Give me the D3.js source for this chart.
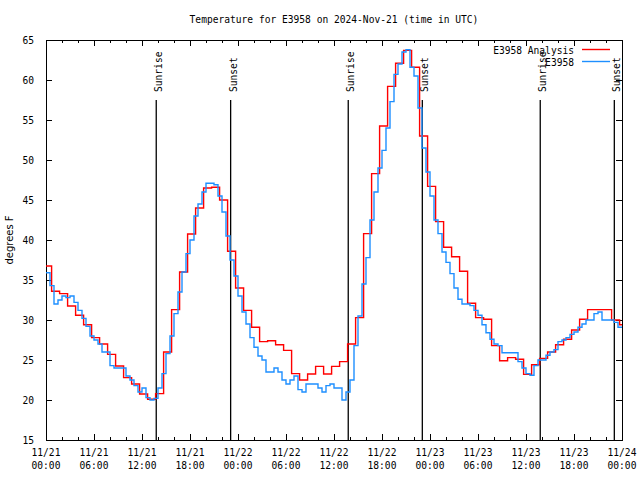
<!DOCTYPE html>
<html>
<head>
<meta charset="utf-8">
<script src="https://cdn.jsdelivr.net/npm/d3@7"></script>
<style>
  html, body { margin: 0; padding: 0; background: #fff; }
  svg { display: block; }
  text { font-family: "DejaVu Sans Mono", "Liberation Mono", monospace; font-size: 9.6px; fill: #000; }
</style>
</head>
<body>
<svg id="chart" width="640" height="480"></svg>
<script>
// ---- data ----
const titleText = "Temperature for E3958 on 2024-Nov-21 (time in UTC)";
const yLabel = "degrees F";
const xTickDates = ["11/21","11/21","11/21","11/21","11/22","11/22","11/22","11/22","11/23","11/23","11/23","11/23","11/24"];
const xTickTimes = ["00:00","06:00","12:00","18:00","00:00","06:00","12:00","18:00","00:00","06:00","12:00","18:00","00:00"];
const yTicks = [15, 20, 25, 30, 35, 40, 45, 50, 55, 60, 65];
const seriesNames = ["E3958 Analysis", "E3958"];

// hours since 11/21 00:00 UTC
const sunEvents = ["Sunrise", "Sunset", "Sunrise", "Sunset", "Sunrise", "Sunset"];
const sunHours = [13.78, 23.08, 37.78, 47.04, 61.78, 71.04];

// Analysis: hourly values, each one starting 0.3 h before the hour
const analysisStep = 1, analysisOffset = -0.3;
const analysisTemps = [
  36.75, 33.6, 33.3, 31.75, 30.6, 29.4, 27.8, 27.0, 25.7, 24.25,
  22.8, 22.0, 20.75, 20.1, 20.8, 26.0, 31.3, 36.0, 40.75, 44.0,
  46.5, 46.6, 45.0, 38.6, 34.0, 31.2, 29.1, 27.3, 27.4, 26.9,
  26.2, 23.3, 22.5, 23.25, 24.2, 23.25, 24.2, 24.8, 27.0, 30.3,
  40.8, 48.3, 54.25, 59.2, 62.1, 63.7, 61.6, 53.0, 46.7, 42.3,
  39.1, 37.9, 36.1, 32.1, 30.3, 30.1, 26.8, 24.9, 25.3, 25.1,
  23.2, 24.4, 25.2, 26.0, 26.9, 27.6, 28.75, 30.1, 31.3, 31.3,
  31.3, 30.0, 29.4
];

// Observations: every half hour from 0 h to 72 h
const obsStep = 0.5;
const obsTemps = [
  35.9, 34.3, 32.0, 32.5, 33.0, 32.8, 33.0, 32.2, 31.2, 30.2,
  29.2, 28.0, 27.5, 27.0, 26.0, 26.0, 24.3, 24.0, 24.0, 24.0,
  23.0, 22.5, 21.8, 21.0, 21.5, 20.3, 20.0, 20.2, 21.5, 23.3,
  25.8, 28.0, 30.8, 33.5, 36.0, 38.3, 40.0, 43.0, 44.5, 46.0,
  47.1, 47.1, 46.9, 45.5, 43.5, 40.5, 37.5, 35.5, 33.0, 31.0,
  29.5, 27.8, 26.6, 25.5, 25.0, 23.5, 23.5, 24.0, 23.5, 22.5,
  22.0, 22.5, 23.0, 21.3, 21.0, 22.0, 22.0, 22.0, 21.5, 21.0,
  21.8, 22.0, 21.5, 21.5, 20.0, 21.0, 22.5, 26.8, 30.5, 34.5,
  37.8, 42.5, 46.0, 49.0, 51.2, 54.0, 57.3, 60.7, 62.0, 63.5,
  63.8, 61.6, 60.5, 56.5, 51.5, 48.5, 45.5, 42.5, 40.8, 38.5,
  37.2, 35.8, 34.0, 32.6, 32.0, 32.0, 31.8, 31.2, 30.6, 29.4,
  28.4, 27.6, 27.0, 26.8, 25.9, 25.9, 25.9, 25.9, 24.8, 24.0,
  23.3, 23.1, 24.3, 25.0, 25.0, 25.6, 26.0, 26.3, 27.3, 27.5,
  27.8, 28.2, 28.5, 29.1, 29.5, 30.0, 30.0, 30.8, 31.0, 30.0,
  30.0, 30.0, 29.7, 29.1, 29.1
];

// ---- layout ----
const W = 640, H = 480;
const L = 46, R = 622, T = 40, B = 440;
const svg = d3.select("#chart");
svg.append("rect").attr("width", W).attr("height", H).attr("fill", "#fff");

const x = d3.scaleLinear().domain([0, 72]).range([L, R]);
const y = d3.scaleLinear().domain([15, 65]).range([B, T]);

// title
svg.append("text").attr("x", (L + R) / 2).attr("y", 23)
  .attr("text-anchor", "middle").text(titleText);

// y label
svg.append("text").attr("transform", `translate(13,${(T + B) / 2}) rotate(-90)`)
  .attr("text-anchor", "middle").style("font-family", "'DejaVu Sans', sans-serif").style("font-size", "10px")
  .text(yLabel);

// axes (ticks inward, gnuplot-like)
const majorX = d3.range(0, 73, 6);
const minorX = d3.range(0, 73, 2).filter(h => h % 6 !== 0);

const gx = svg.append("g").attr("transform", `translate(0,${B})`)
  .call(d3.axisBottom(x).tickValues(majorX).tickSizeInner(-6).tickSizeOuter(0).tickFormat(""));
gx.select(".domain").remove();
const gxm = svg.append("g").attr("transform", `translate(0,${B})`)
  .call(d3.axisBottom(x).tickValues(minorX).tickSizeInner(-3).tickSizeOuter(0).tickFormat(""));
gxm.select(".domain").remove();
const gxt = svg.append("g").attr("transform", `translate(0,${T})`)
  .call(d3.axisTop(x).tickValues(majorX).tickSizeInner(-6).tickSizeOuter(0).tickFormat(""));
gxt.select(".domain").remove();
const gxtm = svg.append("g").attr("transform", `translate(0,${T})`)
  .call(d3.axisTop(x).tickValues(minorX).tickSizeInner(-3).tickSizeOuter(0).tickFormat(""));
gxtm.select(".domain").remove();

// x tick labels (two lines)
const xl = svg.append("g");
majorX.forEach((h, i) => {
  const t = xl.append("text").attr("x", x(h)).attr("y", 456).attr("text-anchor", "middle");
  t.append("tspan").attr("x", x(h)).attr("dy", 0).text(xTickDates[i]);
  t.append("tspan").attr("x", x(h)).attr("dy", 13).text(xTickTimes[i]);
});

const gy = svg.append("g").attr("transform", `translate(${L},0)`)
  .call(d3.axisLeft(y).tickValues(yTicks).tickSizeInner(-6).tickSizeOuter(0).tickPadding(12));
gy.select(".domain").remove();
gy.selectAll("text").style("font-family", "'DejaVu Sans Mono', monospace").style("font-size", "9.6px").attr("fill", "#000");
gy.selectAll(".tick").filter(d => d === 15 || d === 65).select("line").remove();
const gyr = svg.append("g").attr("transform", `translate(${R},0)`)
  .call(d3.axisRight(y).tickValues(yTicks).tickSizeInner(-6).tickSizeOuter(0).tickFormat(""));
gyr.select(".domain").remove();

svg.selectAll(".tick line").attr("stroke", "#000").attr("stroke-width", 1).attr("shape-rendering", "crispEdges");

// frame
svg.append("rect").attr("x", L).attr("y", T).attr("width", R - L).attr("height", B - T)
  .attr("fill", "none").attr("stroke", "#000").attr("stroke-width", 1).attr("shape-rendering", "crispEdges");

// sunrise / sunset
const sun = svg.append("g");
sunHours.forEach((h, i) => {
  sun.append("line").attr("x1", x(h)).attr("x2", x(h)).attr("y1", y(57.5)).attr("y2", B)
    .attr("stroke", "#000").attr("stroke-width", 1.3);
  sun.append("text").attr("transform", `translate(${x(h)},92) rotate(-90)`)
    .attr("y", 6).attr("text-anchor", "start").text(sunEvents[i]);
});

// series
const analysisPts = analysisTemps.map((v, k) => [Math.max(0, k * analysisStep + analysisOffset), v]);
analysisPts.push([72, analysisTemps[analysisTemps.length - 1]]);
const obsPts = obsTemps.map((v, i) => [i * obsStep, v]);

const line = d3.line().x(d => x(d[0])).y(d => y(d[1])).curve(d3.curveStepAfter);

svg.append("path").datum(analysisPts).attr("d", line)
  .attr("fill", "none").attr("stroke", "#ff0000").attr("stroke-width", 1.4);
svg.append("path").datum(obsPts).attr("d", line)
  .attr("fill", "none").attr("stroke", "#1e8fff").attr("stroke-width", 1.4);

// legend
const legColors = ["#ff0000", "#1e8fff"];
seriesNames.forEach((name, i) => {
  const ly = 49.5 + i * 12;
  svg.append("text").attr("x", 574).attr("y", ly + 4).attr("text-anchor", "end").text(name);
  svg.append("line").attr("x1", 582).attr("x2", 610).attr("y1", ly).attr("y2", ly)
    .attr("stroke", legColors[i]).attr("stroke-width", 1.4);
});
</script>
</body>
</html>
